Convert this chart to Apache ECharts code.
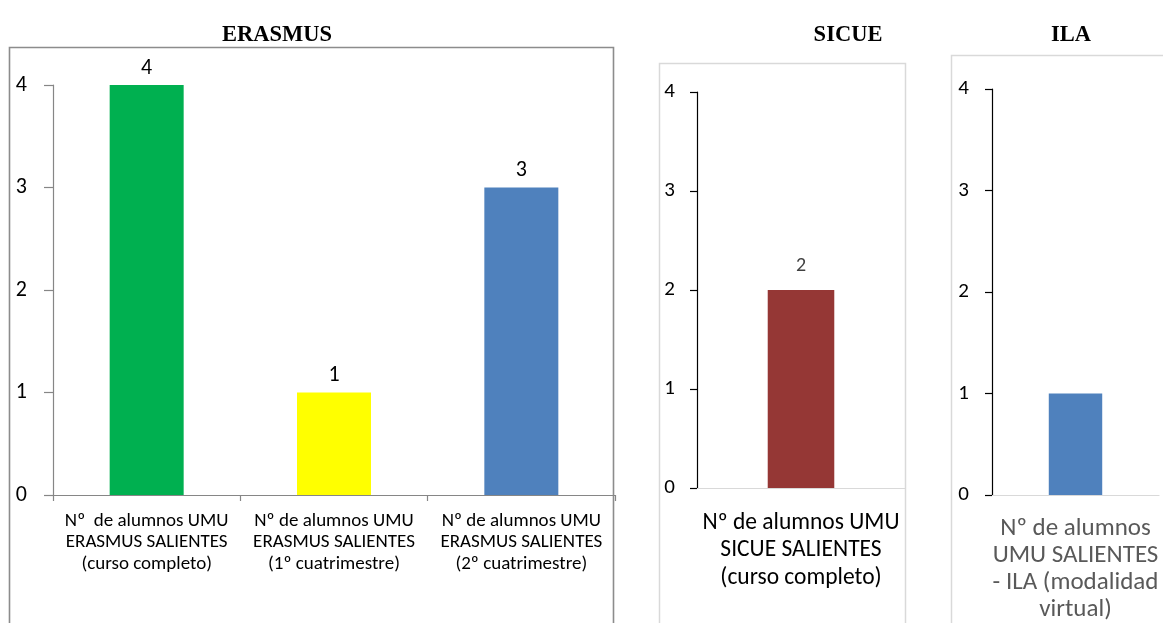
<!DOCTYPE html>
<html>
<head>
<meta charset="utf-8">
<script src="https://cdn.jsdelivr.net/npm/echarts@6/dist/echarts.min.js"></script>
<style>
html,body{margin:0;padding:0;background:#fff;}
#chart{width:1163px;height:623px;}
</style>
</head>
<body>
<div id="chart"></div>
<script>
// ---- data ----
const erasmusCategories = [
  'Nº  de alumnos UMU\nERASMUS SALIENTES\n(curso completo)',
  'Nº de alumnos UMU\nERASMUS SALIENTES\n(1º cuatrimestre)',
  'Nº de alumnos UMU\nERASMUS SALIENTES\n(2º cuatrimestre)'
];
const erasmusValues = [4, 1, 3];
const erasmusColors = ['#00B050', '#FFFF00', '#4F81BD'];

const sicueCategories = ['Nº de alumnos UMU\nSICUE SALIENTES\n(curso completo)'];
const sicueValues = [2];

const ilaCategories = ['Nº de alumnos\nUMU SALIENTES\n- ILA (modalidad\nvirtual)'];
const ilaValues = [1];

const panelTitles = ['ERASMUS', 'SICUE', 'ILA'];
const yMin = 0, yMax = 4, yStep = 1;

const FONT = 'Carlito, Lato, sans-serif';

const chart = echarts.init(document.getElementById('chart'));

function yAxisCfg(gridIndex, color, fontSize, margin, tickLen) {
  return {
    type: 'value', gridIndex: gridIndex, min: yMin, max: yMax, interval: yStep,
    splitLine: {show: false},
    axisLine: {show: true, lineStyle: {color: color, width: 1.2}},
    axisTick: {show: true, length: tickLen, lineStyle: {color: color, width: 1.2}},
    axisLabel: {color: '#000', fontSize: fontSize, fontFamily: FONT, margin: margin}
  };
}

const titleStyle = {fontFamily: 'Liberation Serif, serif', fontWeight: 'bold', fontSize: 22.5, color: '#000'};

const option = {
  animation: false,
  backgroundColor: '#fff',
  title: [
    {text: panelTitles[0], left: 272, top: 30, textAlign: 'center', textVerticalAlign: 'middle', textStyle: titleStyle},
    {text: panelTitles[1], left: 843, top: 30, textAlign: 'center', textVerticalAlign: 'middle', textStyle: titleStyle},
    {text: panelTitles[2], left: 1066, top: 30, textAlign: 'center', textVerticalAlign: 'middle', textStyle: titleStyle}
  ],
  graphic: [
    {type: 'rect', z: -1, shape: {x: 9.5, y: 47.5, width: 604, height: 600},
     style: {fill: 'none', stroke: '#8c8c8c', lineWidth: 1.6}},
    {type: 'rect', z: -1, shape: {x: 659.5, y: 63.5, width: 246, height: 600},
     style: {fill: 'none', stroke: '#d9d9d9', lineWidth: 1.5}},
    {type: 'rect', z: -1, shape: {x: 951.5, y: 55.5, width: 300, height: 600},
     style: {fill: 'none', stroke: '#d9d9d9', lineWidth: 1.5}}
  ],
  grid: [
    {left: 53, right: 1163 - 615, top: 85, bottom: 623 - 495, containLabel: false, outerBoundsMode: 'none'},
    {left: 697, right: 1163 - 905, top: 92, bottom: 623 - 488, containLabel: false, outerBoundsMode: 'none'},
    {left: 992, right: 1163 - 1159, top: 89, bottom: 623 - 495, containLabel: false, outerBoundsMode: 'none'}
  ],
  xAxis: [
    {type: 'category', gridIndex: 0, data: erasmusCategories,
     axisLine: {lineStyle: {color: '#868686', width: 1.2}},
     axisTick: {show: true, length: 6, lineStyle: {color: '#868686', width: 1.2}},
     axisLabel: {interval: 0, color: '#000', fontSize: 19, lineHeight: 21.5, fontFamily: FONT, margin: 15}},
    {type: 'category', gridIndex: 1, data: sicueCategories,
     axisLine: {lineStyle: {color: '#d9d9d9', width: 1.2}},
     axisTick: {show: false},
     axisLabel: {interval: 0, color: '#000', fontSize: 23.5, lineHeight: 27.5, fontFamily: FONT, margin: 21}},
    {type: 'category', gridIndex: 2, data: ilaCategories,
     axisLine: {lineStyle: {color: '#d9d9d9', width: 1.2}},
     axisTick: {show: false},
     axisLabel: {interval: 0, color: '#595959', fontSize: 25, lineHeight: 27, fontFamily: FONT, margin: 20}}
  ],
  yAxis: [
    yAxisCfg(0, '#868686', 22, 26, 9),
    yAxisCfg(1, '#000', 21, 22, 7),
    yAxisCfg(2, '#000', 21, 23, 7)
  ],
  series: [
    {type: 'bar', xAxisIndex: 0, yAxisIndex: 0, barWidth: '39.5%',
     data: erasmusValues.map((v, i) => ({value: v, itemStyle: {color: erasmusColors[i]}})),
     label: {show: true, position: 'top', distance: 6, color: '#000', fontSize: 22, fontFamily: FONT}},
    {type: 'bar', xAxisIndex: 1, yAxisIndex: 1, barWidth: '32%',
     data: sicueValues, itemStyle: {color: '#953735'},
     label: {show: true, position: 'top', distance: 14, color: '#404040', fontSize: 20, fontFamily: FONT}},
    {type: 'bar', xAxisIndex: 2, yAxisIndex: 2, barWidth: '32%',
     data: ilaValues, itemStyle: {color: '#4F81BD'},
     label: {show: false}}
  ]
};
chart.setOption(option);
</script>
</body>
</html>
